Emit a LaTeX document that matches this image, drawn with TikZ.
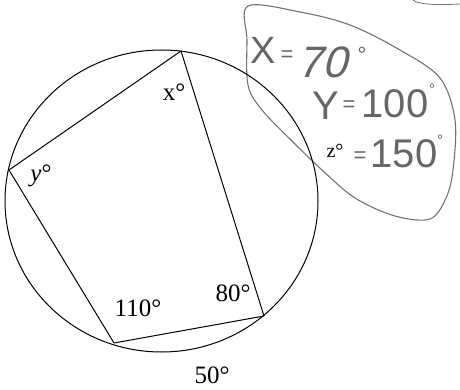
\documentclass[tikz,border=0pt]{standalone}
\usepackage{fontspec}
\setmainfont{Liberation Serif}
\newfontfamily\handfont{Liberation Sans}
\usetikzlibrary{shapes.geometric}
\tikzset{
  geo/.style={draw=black, line width=1pt},
  lbl/.style={inner sep=0pt, font=\fontsize{25}{25}\selectfont},
  hand/.style={inner sep=0pt, text=black!60, font=\handfont\fontsize{40}{40}\selectfont},
  handsmall/.style={inner sep=0pt, text=black!60, font=\handfont\fontsize{22}{22}\selectfont},
  handdeg/.style={inner sep=0pt, text=black!60, font=\handfont\fontsize{15}{15}\selectfont},
  blob/.style={draw=black!55, line width=1.1pt}
}
\begin{document}
\begin{tikzpicture}[x=1pt,y=-1pt]
\useasboundingbox[fill=white] (0,0) rectangle (460,390);
% handwritten outline
\draw[blob] plot[smooth cycle, tension=0.55] coordinates {
  (248,6) (300,12) (350,25) (400,50) (440,78) (455,120) (453,170) (446,198) (430,219)
  (395,216) (355,198) (322,170) (293,142) (262,110) (248,85) (247,40)};
\draw[draw=black!55, line width=0.8pt] (413,0) .. controls (418,5) and (440,5) .. (460,4);
% circle
\node[geo, ellipse, minimum width=313pt, minimum height=302pt, inner sep=0pt] (circ) at (161.5,201) {};
\coordinate (A) at (181,51);
\coordinate (B) at (264,316);
\coordinate (C) at (114,343);
\coordinate (D) at (9,170);
\draw[geo, line join=round] (A) -- (B) -- (C) -- (D) -- cycle;
% labels
\node[lbl] (lx) at (174,92) {x°};
\node[lbl] (ly) at (41,176) {\textit{y}°};
\node[lbl] (l110) at (138,308) {110°};
\node[lbl] (l80) at (233,293) {80°};
\node[lbl] (l50) at (212,375) {50°};
% handwritten answers
\node[hand, font=\handfont\fontsize{38}{38}\selectfont] (hx) at (263,50) {X};
\node[handsmall] (he1) at (287,56) {=};
\node[hand, font=\handfont\fontsize{44}{44}\selectfont, xslant=0.25] (h70) at (326,62) {70};
\node[handsmall] (hd1) at (362,55) {°};
\node[hand] (hy) at (326,106) {Y};
\node[handsmall] (he2) at (349,106) {=};
\node[hand] (h100) at (395,104) {100};
\node[handdeg] (hd2) at (432,89) {°};
\node[lbl, font=\fontsize{20}{20}\selectfont] (hz) at (335,151) {z°};
\node[handsmall] (he3) at (360,157) {=};
\node[hand] (h150) at (404,154) {150};
\node[handdeg] (hd3) at (440,140) {°};
\end{tikzpicture}
\end{document}
